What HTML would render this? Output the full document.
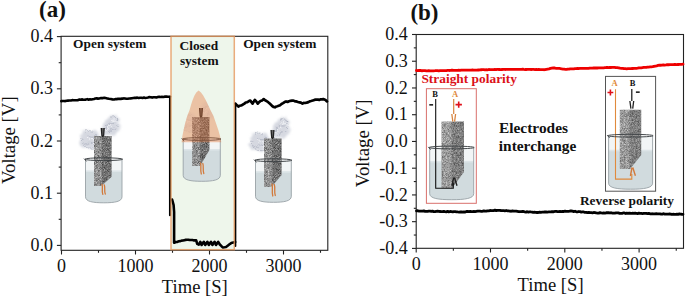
<!DOCTYPE html>
<html><head><meta charset="utf-8"><style>
html,body{margin:0;padding:0;background:#fff;width:685px;height:298px;overflow:hidden}
svg{display:block}
text{font-family:"Liberation Serif", serif;fill:#111}
.t{font-size:18px}
.tl{font-size:18.8px}
.tt{font-size:18.6px}
.b13{font-size:13.4px;font-weight:bold}
.b15{font-size:15.4px;font-weight:bold}
.b22{font-size:23px;font-weight:bold}
.b8{font-size:8.5px;font-weight:bold}
</style></head><body>
<svg width="685" height="298" viewBox="0 0 685 298">
<defs>
<filter id="noise" x="0" y="0" width="100%" height="100%" color-interpolation-filters="sRGB">
<feTurbulence type="fractalNoise" baseFrequency="1.5 0.85" numOctaves="2" seed="3" result="n"/>
<feColorMatrix in="n" type="matrix" values="0.78 0 0 0 0.14  0.78 0 0 0 0.14  0.78 0 0 0 0.14  0 0 0 0 1" result="a"/>
<feComposite in="a" in2="SourceGraphic" operator="in"/>
</filter>
<filter id="blur1"><feGaussianBlur stdDeviation="1.2"/></filter>
<filter id="wisp2" x="-30%" y="-30%" width="160%" height="160%">
<feTurbulence type="turbulence" baseFrequency="0.3" numOctaves="2" seed="4" result="t"/>
<feDisplacementMap in="SourceGraphic" in2="t" scale="4" xChannelSelector="R" yChannelSelector="G" result="d"/>
<feGaussianBlur in="d" stdDeviation="0.9"/>
</filter>
<filter id="wisp" x="-30%" y="-30%" width="160%" height="160%">
<feTurbulence type="turbulence" baseFrequency="0.22" numOctaves="2" seed="7" result="t"/>
<feDisplacementMap in="SourceGraphic" in2="t" scale="5" xChannelSelector="R" yChannelSelector="G" result="d"/>
<feGaussianBlur in="d" stdDeviation="0.35"/>
</filter>
</defs>
<rect width="685" height="298" fill="#fff"/>
<rect x="171.0" y="36.3" width="63.3" height="213.5" fill="#eef6eb"/>
<path d="M85.5,159.2 L85.5,196.8 C85.5,201.6 92.8,202.8 103.8,202.8 C114.7,202.8 122.0,201.6 122.0,196.8 L122.0,159.2 Z" fill="#f2f5f6" stroke="none"/>
<path d="M85.5,171.0 L85.5,196.8 C85.5,201.6 92.8,202.8 103.8,202.8 C114.7,202.8 122.0,201.6 122.0,196.8 L122.0,171.0 Z" fill="#d1dbde"/>
<rect x="85.5" y="170.4" width="36.5" height="1.6" fill="#dde5e8"/>
<g transform="translate(103,136) scale(1,1)"><g filter="url(#wisp2)" fill="#d5d8e0" fill-opacity="0.95"><ellipse cx="2" cy="-6" rx="5" ry="5"/><ellipse cx="6" cy="-12" rx="6.5" ry="6"/><ellipse cx="9" cy="-17" rx="6" ry="5"/><ellipse cx="12" cy="-9" rx="4.5" ry="5"/><ellipse cx="8" cy="-4" rx="4" ry="3"/><ellipse cx="-16" cy="0" rx="7.5" ry="6"/><ellipse cx="-13" cy="7" rx="7" ry="5"/><ellipse cx="-20" cy="5" rx="5" ry="5"/><ellipse cx="-9" cy="-2" rx="4" ry="4"/><ellipse cx="-18" cy="-4" rx="4" ry="3.5"/></g><g filter="url(#wisp)" fill="none" stroke="#f4f5f8" stroke-width="0.9"><path d="M0,-4 C3,-9 4,-12 7,-13 M6,-15 C9,-18 11,-16 13,-18 M-18,2 C-15,0 -12,3 -9,1 M-17,6 C-14,5 -12,8 -9,6"/></g><g filter="url(#wisp)" fill="none" stroke="#9ea3b3" stroke-width="0.55"><path d="M-1,-2 C2,-8 0,-12 5,-14 C9,-16 11,-12 14,-18 M4,-5 C7,-8 11,-7 13,-12 M5,-20 C8,-23 12,-20 14,-16 M-3,0 C-8,-3 -12,1 -17,-2 M-9,5 C-13,3 -15,9 -21,6 M-22,1 C-24,6 -20,10 -15,10 M-20,-5 C-17,-8 -13,-5 -10,-6 M-14,11 C-11,12 -8,9 -6,10"/></g></g>
<path d="M94.0,136.0 L111.6,136.0 L111.6,176.8 L101.0,186.0 L94.0,186.0 Z" fill="#000" filter="url(#noise)"/>
<path d="M94.0,136.0 L101.9,136.0 L101.9,186.0 L94.0,186.0 Z" fill="#fff" opacity="0.07"/>
<path d="M101.9,136.0 L111.6,136.0 L111.6,176.8 L101.9,186.0 L101.9,186.0 Z" fill="#000" opacity="0.17"/>
<path d="M101.3,128.0 L101.9,135.5 L102.8,136.5 L103.6,135.5 L104.2,128.0" fill="#666" stroke="#222" stroke-width="1.3" stroke-linejoin="round"/>
<path d="M102.0,184.4 c1.2,3.0 -0.6,6.0 0.8,10.0 M104.3,184.9 c1.2,3.0 -0.4,6.0 1.0,9.2" fill="none" stroke="#d27a3c" stroke-width="1.3" stroke-linecap="round"/>
<path d="M85.5,159.2 L85.5,196.8 C85.5,201.6 92.8,202.8 103.8,202.8 C114.7,202.8 122.0,201.6 122.0,196.8 L122.0,159.2" fill="none" stroke="#98a1a6" stroke-width="0.9"/>
<ellipse cx="103.8" cy="159.2" rx="18.8" ry="1.4" fill="none" stroke="#3c4043" stroke-width="0.95"/>
<path d="M84.0,158.6 l2.5,2.8" stroke="#3c4043" stroke-width="0.9" fill="none"/>
<path d="M183.2,139.0 L183.2,175.3 C183.2,180.1 190.6,181.3 201.8,181.3 C212.9,181.3 220.3,180.1 220.3,175.3 L220.3,139.0 Z" fill="#f2f5f6" stroke="none"/>
<path d="M183.2,149.6 L183.2,175.3 C183.2,180.1 190.6,181.3 201.8,181.3 C212.9,181.3 220.3,180.1 220.3,175.3 L220.3,149.6 Z" fill="#d1dbde"/>
<rect x="183.2" y="149.0" width="37.1" height="1.6" fill="#dde5e8"/>
<clipPath id="domeclip"><path d="M198.6,90.5 L196.3,92.5 L194.5,95.5 L192.6,100 L191,105 L189.6,110 L187.2,116 L185.2,123 L183.6,130 L182.4,136 L181.6,142.2 L221.3,142.2 L220,136 L218.3,130 L215.9,123 L213.5,116 L210.4,110 L208.1,105 L205.7,100 L203.2,95.5 L201,92.5 Z"/></clipPath><g opacity="0.4" clip-path="url(#domeclip)"><g transform="translate(200.8,119) scale(1,1)"><g filter="url(#wisp2)" fill="#d5d8e0" fill-opacity="0.95"><ellipse cx="2" cy="-6" rx="5" ry="5"/><ellipse cx="6" cy="-12" rx="6.5" ry="6"/><ellipse cx="9" cy="-17" rx="6" ry="5"/><ellipse cx="12" cy="-9" rx="4.5" ry="5"/><ellipse cx="8" cy="-4" rx="4" ry="3"/><ellipse cx="-16" cy="0" rx="7.5" ry="6"/><ellipse cx="-13" cy="7" rx="7" ry="5"/><ellipse cx="-20" cy="5" rx="5" ry="5"/><ellipse cx="-9" cy="-2" rx="4" ry="4"/><ellipse cx="-18" cy="-4" rx="4" ry="3.5"/></g><g filter="url(#wisp)" fill="none" stroke="#f4f5f8" stroke-width="0.9"><path d="M0,-4 C3,-9 4,-12 7,-13 M6,-15 C9,-18 11,-16 13,-18 M-18,2 C-15,0 -12,3 -9,1 M-17,6 C-14,5 -12,8 -9,6"/></g><g filter="url(#wisp)" fill="none" stroke="#9ea3b3" stroke-width="0.55"><path d="M-1,-2 C2,-8 0,-12 5,-14 C9,-16 11,-12 14,-18 M4,-5 C7,-8 11,-7 13,-12 M5,-20 C8,-23 12,-20 14,-16 M-3,0 C-8,-3 -12,1 -17,-2 M-9,5 C-13,3 -15,9 -21,6 M-22,1 C-24,6 -20,10 -15,10 M-20,-5 C-17,-8 -13,-5 -10,-6 M-14,11 C-11,12 -8,9 -6,10"/></g></g></g>
<path d="M192.2,117.0 L209.4,117.0 L209.4,150.0 L200.0,166.0 L192.2,166.0 Z" fill="#000" filter="url(#noise)"/>
<path d="M192.2,117.0 L199.9,117.0 L199.9,166.0 L192.2,166.0 Z" fill="#fff" opacity="0.07"/>
<path d="M199.9,117.0 L209.4,117.0 L209.4,150.0 L200.0,166.0 L199.9,166.0 Z" fill="#000" opacity="0.17"/>
<path d="M199.6,108.0 L200.2,116.0 L201.0,117.0 L201.8,116.0 L202.4,108.0" fill="#666" stroke="#222" stroke-width="1.3" stroke-linejoin="round"/>
<path d="M200.5,163.0 c1.2,3.3 -0.6,6.6 0.8,11.0 M202.8,163.5 c1.2,3.3 -0.4,6.6 1.0,10.1" fill="none" stroke="#d27a3c" stroke-width="1.3" stroke-linecap="round"/>
<path d="M183.2,139.0 L183.2,175.3 C183.2,180.1 190.6,181.3 201.8,181.3 C212.9,181.3 220.3,180.1 220.3,175.3 L220.3,139.0" fill="none" stroke="#98a1a6" stroke-width="0.9"/>
<ellipse cx="201.8" cy="139.0" rx="19.1" ry="1.4" fill="none" stroke="#3c4043" stroke-width="0.95"/>
<path d="M181.7,138.4 l2.5,2.8" stroke="#3c4043" stroke-width="0.9" fill="none"/>
<path d="M198.6,90.5 L196.3,92.5 L194.5,95.5 L192.6,100 L191,105 L189.6,110 L187.2,116 L185.2,123 L183.6,130 L182.4,136 L181.6,142.2 L221.3,142.2 L220,136 L218.3,130 L215.9,123 L213.5,116 L210.4,110 L208.1,105 L205.7,100 L203.2,95.5 L201,92.5 Z" fill="#e6763a" fill-opacity="0.4"/>
<path d="M255.5,160.2 L255.5,196.3 C255.5,201.1 262.7,202.3 273.4,202.3 C284.1,202.3 291.3,201.1 291.3,196.3 L291.3,160.2 Z" fill="#f2f5f6" stroke="none"/>
<path d="M255.5,171.8 L255.5,196.3 C255.5,201.1 262.7,202.3 273.4,202.3 C284.1,202.3 291.3,201.1 291.3,196.3 L291.3,171.8 Z" fill="#d1dbde"/>
<rect x="255.5" y="171.2" width="35.8" height="1.6" fill="#dde5e8"/>
<g transform="translate(273,138.5) scale(1,1)"><g filter="url(#wisp2)" fill="#d5d8e0" fill-opacity="0.95"><ellipse cx="2" cy="-6" rx="5" ry="5"/><ellipse cx="6" cy="-12" rx="6.5" ry="6"/><ellipse cx="9" cy="-17" rx="6" ry="5"/><ellipse cx="12" cy="-9" rx="4.5" ry="5"/><ellipse cx="8" cy="-4" rx="4" ry="3"/><ellipse cx="-16" cy="0" rx="7.5" ry="6"/><ellipse cx="-13" cy="7" rx="7" ry="5"/><ellipse cx="-20" cy="5" rx="5" ry="5"/><ellipse cx="-9" cy="-2" rx="4" ry="4"/><ellipse cx="-18" cy="-4" rx="4" ry="3.5"/></g><g filter="url(#wisp)" fill="none" stroke="#f4f5f8" stroke-width="0.9"><path d="M0,-4 C3,-9 4,-12 7,-13 M6,-15 C9,-18 11,-16 13,-18 M-18,2 C-15,0 -12,3 -9,1 M-17,6 C-14,5 -12,8 -9,6"/></g><g filter="url(#wisp)" fill="none" stroke="#9ea3b3" stroke-width="0.55"><path d="M-1,-2 C2,-8 0,-12 5,-14 C9,-16 11,-12 14,-18 M4,-5 C7,-8 11,-7 13,-12 M5,-20 C8,-23 12,-20 14,-16 M-3,0 C-8,-3 -12,1 -17,-2 M-9,5 C-13,3 -15,9 -21,6 M-22,1 C-24,6 -20,10 -15,10 M-20,-5 C-17,-8 -13,-5 -10,-6 M-14,11 C-11,12 -8,9 -6,10"/></g></g>
<path d="M264.0,138.5 L281.6,138.5 L281.6,175.0 L271.0,187.0 L264.0,187.0 Z" fill="#000" filter="url(#noise)"/>
<path d="M264.0,138.5 L271.9,138.5 L271.9,187.0 L264.0,187.0 Z" fill="#fff" opacity="0.07"/>
<path d="M271.9,138.5 L281.6,138.5 L281.6,175.0 L271.9,187.0 L271.9,187.0 Z" fill="#000" opacity="0.17"/>
<path d="M271.1,130.0 L271.7,137.5 L272.5,138.5 L273.3,137.5 L273.9,130.0" fill="#666" stroke="#222" stroke-width="1.3" stroke-linejoin="round"/>
<path d="M272.0,184.0 c1.2,3.6 -0.6,7.2 0.8,12.0 M274.3,184.5 c1.2,3.6 -0.4,7.2 1.0,11.0" fill="none" stroke="#d27a3c" stroke-width="1.3" stroke-linecap="round"/>
<path d="M255.5,160.2 L255.5,196.3 C255.5,201.1 262.7,202.3 273.4,202.3 C284.1,202.3 291.3,201.1 291.3,196.3 L291.3,160.2" fill="none" stroke="#98a1a6" stroke-width="0.9"/>
<ellipse cx="273.4" cy="160.2" rx="18.4" ry="1.4" fill="none" stroke="#3c4043" stroke-width="0.95"/>
<path d="M254.0,159.6 l2.5,2.8" stroke="#3c4043" stroke-width="0.9" fill="none"/>
<rect x="61.1" y="36.3" width="266.70" height="214.00" fill="none" stroke="#222" stroke-width="1.1"/>
<line x1="56.90" y1="245.40" x2="61.10" y2="245.40" stroke="#222" stroke-width="1.1"/>
<text x="53.00" y="251.00" text-anchor="end" class="t">0.0</text>
<line x1="56.90" y1="193.20" x2="61.10" y2="193.20" stroke="#222" stroke-width="1.1"/>
<text x="53.00" y="198.80" text-anchor="end" class="t">0.1</text>
<line x1="56.90" y1="141.00" x2="61.10" y2="141.00" stroke="#222" stroke-width="1.1"/>
<text x="53.00" y="146.60" text-anchor="end" class="t">0.2</text>
<line x1="56.90" y1="88.80" x2="61.10" y2="88.80" stroke="#222" stroke-width="1.1"/>
<text x="53.00" y="94.40" text-anchor="end" class="t">0.3</text>
<line x1="56.90" y1="36.60" x2="61.10" y2="36.60" stroke="#222" stroke-width="1.1"/>
<text x="53.00" y="42.20" text-anchor="end" class="t">0.4</text>
<line x1="58.70" y1="219.30" x2="61.10" y2="219.30" stroke="#222" stroke-width="1.1"/>
<line x1="58.70" y1="167.10" x2="61.10" y2="167.10" stroke="#222" stroke-width="1.1"/>
<line x1="58.70" y1="114.90" x2="61.10" y2="114.90" stroke="#222" stroke-width="1.1"/>
<line x1="58.70" y1="62.70" x2="61.10" y2="62.70" stroke="#222" stroke-width="1.1"/>
<line x1="61.50" y1="250.30" x2="61.50" y2="254.50" stroke="#222" stroke-width="1.1"/>
<text x="61.50" y="272.30" text-anchor="middle" class="t">0</text>
<line x1="135.50" y1="250.30" x2="135.50" y2="254.50" stroke="#222" stroke-width="1.1"/>
<text x="135.50" y="272.30" text-anchor="middle" class="t">1000</text>
<line x1="209.50" y1="250.30" x2="209.50" y2="254.50" stroke="#222" stroke-width="1.1"/>
<text x="209.50" y="272.30" text-anchor="middle" class="t">2000</text>
<line x1="283.50" y1="250.30" x2="283.50" y2="254.50" stroke="#222" stroke-width="1.1"/>
<text x="283.50" y="272.30" text-anchor="middle" class="t">3000</text>
<line x1="98.50" y1="250.30" x2="98.50" y2="252.80" stroke="#222" stroke-width="1.1"/>
<line x1="172.50" y1="250.30" x2="172.50" y2="252.80" stroke="#222" stroke-width="1.1"/>
<line x1="246.50" y1="250.30" x2="246.50" y2="252.80" stroke="#222" stroke-width="1.1"/>
<line x1="320.50" y1="250.30" x2="320.50" y2="252.80" stroke="#222" stroke-width="1.1"/>
<path d="M61.30,101.10 L62.64,100.97 L63.98,100.94 L65.32,101.10 L66.66,100.68 L68.00,100.60 L69.40,100.53 L70.80,100.50 L72.20,100.14 L73.60,100.29 L75.00,100.20 L76.33,100.19 L77.67,100.21 L79.00,99.62 L80.33,99.66 L81.67,99.41 L83.00,99.60 L84.40,99.76 L85.80,99.62 L87.20,99.10 L88.60,99.70 L90.00,99.30 L91.33,99.51 L92.67,99.17 L94.00,99.03 L95.33,98.59 L96.67,98.38 L98.00,98.60 L99.25,98.54 L100.50,98.13 L101.75,98.13 L103.00,98.09 L104.25,97.85 L105.50,98.10 L107.25,98.42 L109.00,98.80 L110.75,99.06 L112.50,99.40 L113.88,99.51 L115.25,99.16 L116.62,99.12 L118.00,98.90 L119.40,98.82 L120.80,98.85 L122.20,98.63 L123.60,98.42 L125.00,98.50 L126.40,98.79 L127.80,98.73 L129.20,98.56 L130.60,98.41 L132.00,98.20 L133.33,98.00 L134.67,97.88 L136.00,97.85 L137.33,97.63 L138.67,98.05 L140.00,97.80 L141.33,97.68 L142.67,97.94 L144.00,97.57 L145.33,97.92 L146.67,97.79 L148.00,97.50 L149.40,97.09 L150.80,97.18 L152.20,97.61 L153.60,97.24 L155.00,97.20 L156.40,97.48 L157.80,97.01 L159.20,96.72 L160.60,97.05 L162.00,96.90 L163.32,97.05 L164.64,96.66 L165.96,96.49 L167.28,96.62 L168.60,96.70 L170.00,96.70" fill="none" stroke="#000" stroke-width="2.6" stroke-linejoin="round" stroke-linecap="round"/>
<path d="M170.00,96.70 L170.00,215.30" fill="none" stroke="#000" stroke-width="2.1" stroke-linejoin="round" stroke-linecap="round"/>
<path d="M172.10,199.50 L173.60,205.00 L174.10,212.00 L174.10,242.80 L176.00,242.00 L177.50,241.84 L179.00,241.30 L180.33,241.14 L181.67,240.61 L183.00,240.50 L184.33,240.17 L185.67,239.87 L187.00,239.80 L188.33,239.69 L189.67,240.05 L191.00,240.00 L192.50,240.07 L194.00,240.40 L196.20,240.40 L197.20,243.80 L198.80,244.60 L200.30,241.80 L201.60,245.00 L203.80,241.80 L205.20,245.00 L207.40,241.80 L208.80,245.00 L211.00,241.80 L212.40,245.00 L214.60,241.80 L216.00,245.00 L218.20,241.80 L219.80,244.50 L221.50,246.20 L223.00,247.50 L224.50,247.27 L226.00,247.00 L228.00,245.50 L229.50,244.33 L231.00,243.20 L232.20,242.68 L233.40,242.40 L235.20,242.00" fill="none" stroke="#000" stroke-width="2.6" stroke-linejoin="round" stroke-linecap="round"/>
<path d="M235.40,246.00 L235.40,103.60" fill="none" stroke="#000" stroke-width="1.9" stroke-linejoin="round" stroke-linecap="round"/>
<path d="M235.40,103.60 L236.90,105.31 L238.40,106.60 L239.70,105.72 L241.00,105.50 L242.70,104.68 L244.40,103.60 L245.70,102.55 L247.00,102.20 L248.65,101.33 L250.30,100.60 L252.60,103.60 L254.80,99.90 L256.30,101.49 L257.80,103.60 L259.15,102.09 L260.50,101.00 L262.10,100.47 L263.70,99.10 L265.10,100.32 L266.50,101.00 L268.10,102.12 L269.70,103.60 L272.00,105.80 L273.45,106.90 L274.90,107.30 L276.13,106.54 L277.37,106.20 L278.60,105.80 L280.05,105.22 L281.50,104.00 L283.05,103.18 L284.60,102.10 L286.07,101.47 L287.53,102.01 L289.00,101.30 L290.50,100.81 L292.00,100.62 L293.50,100.60 L295.00,101.31 L296.50,101.38 L298.00,102.00 L299.47,102.35 L300.93,102.68 L302.40,103.60 L303.70,102.93 L305.00,103.00 L306.70,102.62 L308.40,102.10 L309.70,101.32 L311.00,101.00 L312.70,100.54 L314.40,99.90 L315.60,99.68 L316.80,99.66 L318.00,99.60 L319.32,99.89 L320.65,99.34 L321.98,99.29 L323.30,99.10 L325.50,100.00 L327.00,101.40" fill="none" stroke="#000" stroke-width="2.7" stroke-linejoin="round" stroke-linecap="round"/>
<rect x="171.0" y="36.3" width="63.3" height="213.4" fill="none" stroke="#e6975d" stroke-opacity="0.8" stroke-width="1.5"/>
<text x="73.1" y="48.1" class="b13">Open system</text>
<text x="179.5" y="49.7" class="b13">Closed</text>
<text x="179.9" y="64.8" class="b13">system</text>
<text x="243.2" y="47.6" class="b13">Open system</text>
<text x="39.0" y="16.8" class="b22">(a)</text>
<text x="194.8" y="292.8" text-anchor="middle" class="tt">Time [S]</text>
<text transform="translate(15.2,140.2) rotate(-90)" text-anchor="middle" class="tl">Voltage [V]</text>
<rect x="426.4" y="88.7" width="49.9" height="114.6" fill="#fff" stroke="#d9706c" stroke-width="1"/>
<path d="M429.7,147.5 L429.7,193.7 C429.7,198.5 438.5,199.7 451.7,199.7 C464.9,199.7 473.7,198.5 473.7,193.7 L473.7,147.5 Z" fill="#f2f5f6" stroke="none"/>
<path d="M429.7,161.5 L429.7,193.7 C429.7,198.5 438.5,199.7 451.7,199.7 C464.9,199.7 473.7,198.5 473.7,193.7 L473.7,161.5 Z" fill="#d1dbde"/>
<rect x="429.7" y="160.9" width="44.0" height="1.6" fill="#dde5e8"/>
<path d="M441.5,121.6 L464.0,121.6 L464.0,172.0 L452.0,188.3 L441.5,188.3 Z" fill="#000" filter="url(#noise)"/>
<path d="M441.5,121.6 L451.6,121.6 L451.6,188.3 L441.5,188.3 Z" fill="#fff" opacity="0.07"/>
<path d="M451.6,121.6 L464.0,121.6 L464.0,172.0 L452.0,188.3 L451.6,188.3 Z" fill="#000" opacity="0.17"/>
<path d="M441.5,121.6 L464.0,121.6 L464.0,172.0 L452.0,188.3 L441.5,188.3 Z" fill="#fff" opacity="0.1"/>
<path d="M453.7,99 L453.7,114" stroke="#d8843f" stroke-width="1.2"/><path d="M451.8,114 l1,7.5 M455.6,114 l-1,7.5" stroke="#d8843f" stroke-width="1.3" fill="none"/>
<path d="M435.7,99 L435.7,188.3 L453.3,188.3 L453.3,183" fill="none" stroke="#111" stroke-width="1.1"/><path d="M453.6,177.5 l-1.6,8.5 M454.4,177.5 l2.6,8.3" stroke="#222" stroke-width="1.4" fill="none"/>
<path d="M429.7,147.5 L429.7,193.7 C429.7,198.5 438.5,199.7 451.7,199.7 C464.9,199.7 473.7,198.5 473.7,193.7 L473.7,147.5" fill="none" stroke="#98a1a6" stroke-width="0.9"/>
<ellipse cx="451.7" cy="147.5" rx="22.5" ry="1.4" fill="none" stroke="#3c4043" stroke-width="0.95"/>
<path d="M428.2,146.9 l2.5,2.8" stroke="#3c4043" stroke-width="0.9" fill="none"/>
<text x="432.3" y="97" class="b8">B</text>
<text x="452.0" y="97" class="b8" style="fill:#e08a3c">A</text>
<rect x="429.3" y="104.1" width="3.8" height="1.5" fill="#111"/>
<path d="M455.5,104.6 h6.4 M458.7,101.4 v6.4" stroke="#e0101a" stroke-width="1.6"/>
<rect x="605.5" y="76.4" width="50.1" height="114.8" fill="#fff" stroke="#555" stroke-width="1"/>
<path d="M608.6,135.7 L608.6,183.2 C608.6,188.0 617.4,189.2 630.6,189.2 C643.8,189.2 652.6,188.0 652.6,183.2 L652.6,135.7 Z" fill="#f2f5f6" stroke="none"/>
<path d="M608.6,150.3 L608.6,183.2 C608.6,188.0 617.4,189.2 630.6,189.2 C643.8,189.2 652.6,188.0 652.6,183.2 L652.6,150.3 Z" fill="#d1dbde"/>
<rect x="608.6" y="149.7" width="44.0" height="1.6" fill="#dde5e8"/>
<path d="M619.8,109.7 L641.2,109.7 L641.2,155.0 L630.0,169.0 L619.8,169.0 Z" fill="#000" filter="url(#noise)"/>
<path d="M619.8,109.7 L629.4,109.7 L629.4,169.0 L619.8,169.0 Z" fill="#fff" opacity="0.07"/>
<path d="M629.4,109.7 L641.2,109.7 L641.2,155.0 L630.0,169.0 L629.4,169.0 Z" fill="#000" opacity="0.17"/>
<path d="M619.8,109.7 L641.2,109.7 L641.2,155.0 L630.0,169.0 L619.8,169.0 Z" fill="#fff" opacity="0.1"/>
<path d="M631.8,89 L631.8,101" stroke="#111" stroke-width="1.2"/><path d="M629.9,101 l1,7.7 M633.7,101 l-1,7.7" stroke="#222" stroke-width="1.3" fill="none"/>
<path d="M615.5,89.3 L615.5,179.1 L631.8,179.1 L631.8,174" fill="none" stroke="#e08a3c" stroke-width="1.1"/><path d="M632,167.5 l-1.6,8.5 M632.8,167.5 l2.6,8.3" stroke="#d27a3c" stroke-width="1.4" fill="none"/>
<path d="M608.6,135.7 L608.6,183.2 C608.6,188.0 617.4,189.2 630.6,189.2 C643.8,189.2 652.6,188.0 652.6,183.2 L652.6,135.7" fill="none" stroke="#98a1a6" stroke-width="0.9"/>
<ellipse cx="630.6" cy="135.7" rx="22.5" ry="1.4" fill="none" stroke="#3c4043" stroke-width="0.95"/>
<path d="M607.1,135.1 l2.5,2.8" stroke="#3c4043" stroke-width="0.9" fill="none"/>
<text x="611.6" y="85.5" class="b8" style="fill:#e08a3c">A</text>
<text x="629.8" y="85.5" class="b8">B</text>
<path d="M607.5,92.5 h5.8 M610.4,89.6 v5.8" stroke="#e0101a" stroke-width="1.6"/>
<rect x="635.9" y="91.4" width="3.8" height="1.5" fill="#111"/>
<rect x="416.2" y="34.5" width="267.30" height="213.80" fill="none" stroke="#222" stroke-width="1.1"/>
<line x1="412.00" y1="34.49" x2="416.20" y2="34.49" stroke="#222" stroke-width="1.1"/>
<text x="407.70" y="40.09" text-anchor="end" class="t">0.4</text>
<line x1="412.00" y1="61.23" x2="416.20" y2="61.23" stroke="#222" stroke-width="1.1"/>
<text x="407.70" y="66.83" text-anchor="end" class="t">0.3</text>
<line x1="412.00" y1="87.97" x2="416.20" y2="87.97" stroke="#222" stroke-width="1.1"/>
<text x="407.70" y="93.57" text-anchor="end" class="t">0.2</text>
<line x1="412.00" y1="114.71" x2="416.20" y2="114.71" stroke="#222" stroke-width="1.1"/>
<text x="407.70" y="120.31" text-anchor="end" class="t">0.1</text>
<line x1="412.00" y1="141.45" x2="416.20" y2="141.45" stroke="#222" stroke-width="1.1"/>
<text x="407.70" y="147.05" text-anchor="end" class="t">0.0</text>
<line x1="412.00" y1="168.19" x2="416.20" y2="168.19" stroke="#222" stroke-width="1.1"/>
<text x="407.70" y="173.79" text-anchor="end" class="t">-0.1</text>
<line x1="412.00" y1="194.93" x2="416.20" y2="194.93" stroke="#222" stroke-width="1.1"/>
<text x="407.70" y="200.53" text-anchor="end" class="t">-0.2</text>
<line x1="412.00" y1="221.67" x2="416.20" y2="221.67" stroke="#222" stroke-width="1.1"/>
<text x="407.70" y="227.27" text-anchor="end" class="t">-0.3</text>
<line x1="412.00" y1="248.41" x2="416.20" y2="248.41" stroke="#222" stroke-width="1.1"/>
<text x="407.70" y="254.01" text-anchor="end" class="t">-0.4</text>
<line x1="413.80" y1="47.86" x2="416.20" y2="47.86" stroke="#222" stroke-width="1.1"/>
<line x1="413.80" y1="74.60" x2="416.20" y2="74.60" stroke="#222" stroke-width="1.1"/>
<line x1="413.80" y1="101.34" x2="416.20" y2="101.34" stroke="#222" stroke-width="1.1"/>
<line x1="413.80" y1="128.08" x2="416.20" y2="128.08" stroke="#222" stroke-width="1.1"/>
<line x1="413.80" y1="154.82" x2="416.20" y2="154.82" stroke="#222" stroke-width="1.1"/>
<line x1="413.80" y1="181.56" x2="416.20" y2="181.56" stroke="#222" stroke-width="1.1"/>
<line x1="413.80" y1="208.30" x2="416.20" y2="208.30" stroke="#222" stroke-width="1.1"/>
<line x1="413.80" y1="235.04" x2="416.20" y2="235.04" stroke="#222" stroke-width="1.1"/>
<line x1="416.20" y1="248.30" x2="416.20" y2="252.50" stroke="#222" stroke-width="1.1"/>
<text x="416.20" y="270.20" text-anchor="middle" class="t">0</text>
<line x1="490.50" y1="248.30" x2="490.50" y2="252.50" stroke="#222" stroke-width="1.1"/>
<text x="490.50" y="270.20" text-anchor="middle" class="t">1000</text>
<line x1="564.80" y1="248.30" x2="564.80" y2="252.50" stroke="#222" stroke-width="1.1"/>
<text x="564.80" y="270.20" text-anchor="middle" class="t">2000</text>
<line x1="639.10" y1="248.30" x2="639.10" y2="252.50" stroke="#222" stroke-width="1.1"/>
<text x="639.10" y="270.20" text-anchor="middle" class="t">3000</text>
<line x1="453.35" y1="248.30" x2="453.35" y2="250.80" stroke="#222" stroke-width="1.1"/>
<line x1="527.65" y1="248.30" x2="527.65" y2="250.80" stroke="#222" stroke-width="1.1"/>
<line x1="601.95" y1="248.30" x2="601.95" y2="250.80" stroke="#222" stroke-width="1.1"/>
<line x1="676.25" y1="248.30" x2="676.25" y2="250.80" stroke="#222" stroke-width="1.1"/>
<path d="M416.50,70.50 L417.73,70.64 L418.95,70.46 L420.18,70.48 L421.41,70.73 L422.64,70.73 L423.86,70.59 L425.09,70.60 L426.32,70.79 L427.55,70.88 L428.77,70.68 L430.00,70.80 L431.25,70.92 L432.50,70.88 L433.75,70.78 L435.00,70.71 L436.25,70.60 L437.50,70.56 L438.75,70.82 L440.00,70.59 L441.25,70.71 L442.50,70.56 L443.75,70.71 L445.00,70.60 L446.24,70.59 L447.49,70.45 L448.73,70.37 L449.97,70.49 L451.21,70.26 L452.46,70.26 L453.70,70.30 L454.95,70.31 L456.21,70.39 L457.46,70.31 L458.72,70.20 L459.97,70.39 L461.22,70.17 L462.48,70.10 L463.73,70.17 L464.98,70.21 L466.24,70.09 L467.49,70.12 L468.75,70.17 L470.00,70.20 L471.25,70.18 L472.50,70.01 L473.75,70.05 L475.00,70.17 L476.25,70.16 L477.50,70.02 L478.75,69.99 L480.00,69.93 L481.25,69.75 L482.50,69.69 L483.75,69.64 L485.00,69.87 L486.25,69.77 L487.50,69.81 L488.75,69.49 L490.00,69.60 L491.21,69.62 L492.41,69.56 L493.62,69.61 L494.82,69.47 L496.03,69.66 L497.24,69.36 L498.44,69.48 L499.65,69.52 L500.86,69.55 L502.06,69.48 L503.27,69.45 L504.48,69.46 L505.68,69.48 L506.89,69.29 L508.09,69.37 L509.30,69.30 L510.52,69.43 L511.74,69.42 L512.95,69.29 L514.17,69.41 L515.39,69.44 L516.61,69.36 L517.82,69.38 L519.04,69.31 L520.26,69.38 L521.48,69.39 L522.69,69.24 L523.91,69.41 L525.13,69.52 L526.35,69.50 L527.56,69.46 L528.78,69.36 L530.00,69.40 L531.25,69.50 L532.50,69.47 L533.75,69.46 L535.00,69.60 L536.25,69.40 L537.50,69.63 L538.75,69.43 L540.00,69.63 L541.25,69.62 L542.50,69.57 L543.75,69.73 L545.00,69.70 L546.37,69.40 L547.73,69.13 L549.10,68.93 L550.47,68.43 L551.83,68.05 L553.20,67.90 L554.80,68.01 L556.40,68.29 L558.00,68.40 L559.23,68.46 L560.47,68.60 L561.70,68.97 L562.93,69.05 L564.17,69.13 L565.40,69.30 L566.60,69.33 L567.80,69.07 L569.00,69.09 L570.20,68.86 L571.40,68.84 L572.60,68.87 L573.80,68.81 L575.00,68.60 L576.21,68.68 L577.42,68.50 L578.63,68.52 L579.84,68.41 L581.06,68.32 L582.27,68.40 L583.48,68.47 L584.69,68.44 L585.90,68.30 L587.18,68.33 L588.46,68.36 L589.75,68.12 L591.03,68.06 L592.31,68.10 L593.59,68.01 L594.87,67.96 L596.15,67.98 L597.44,68.01 L598.72,67.93 L600.00,67.90 L601.21,67.79 L602.42,67.90 L603.62,67.89 L604.83,67.69 L606.04,67.52 L607.25,67.46 L608.46,67.66 L609.67,67.36 L610.88,67.51 L612.08,67.42 L613.29,67.29 L614.50,67.30 L615.88,67.61 L617.25,67.61 L618.62,67.87 L620.00,68.20 L621.34,68.33 L622.68,68.34 L624.02,68.72 L625.36,68.68 L626.70,68.90 L627.91,68.70 L629.12,68.58 L630.33,68.67 L631.54,68.52 L632.75,68.48 L633.95,68.40 L635.16,68.36 L636.37,68.31 L637.58,68.14 L638.79,67.90 L640.00,67.90 L641.26,67.78 L642.51,67.58 L643.77,67.42 L645.02,67.45 L646.28,67.41 L647.53,67.14 L648.79,67.05 L650.04,66.96 L651.30,66.90 L652.65,66.68 L654.00,66.34 L655.35,66.08 L656.70,65.84 L658.05,65.45 L659.40,65.20 L660.73,65.23 L662.05,65.20 L663.38,64.89 L664.70,65.08 L666.02,64.95 L667.35,64.71 L668.67,64.75 L670.00,64.70 L671.30,64.69 L672.60,64.72 L673.90,64.51 L675.20,64.52 L676.50,64.56 L677.80,64.49 L679.10,64.48 L680.40,64.29 L681.70,64.30 L683.00,64.20" fill="none" stroke="#ee0000" stroke-width="2.8" stroke-linejoin="round" stroke-linecap="round"/>
<path d="M416.50,210.90 L417.73,210.75 L418.95,211.09 L420.18,211.17 L421.41,211.09 L422.64,211.17 L423.86,210.89 L425.09,211.33 L426.32,211.41 L427.55,211.43 L428.77,211.19 L430.00,211.20 L431.25,211.41 L432.50,211.16 L433.75,211.55 L435.00,211.55 L436.25,211.28 L437.50,211.15 L438.75,211.40 L440.00,211.50 L441.25,211.66 L442.50,211.53 L443.75,211.28 L445.00,211.60 L446.28,211.81 L447.55,211.38 L448.83,211.85 L450.11,211.50 L451.38,211.62 L452.66,211.91 L453.94,211.55 L455.22,211.57 L456.49,211.82 L457.77,211.96 L459.05,212.06 L460.32,211.99 L461.60,211.90 L462.83,212.12 L464.05,211.80 L465.28,212.03 L466.51,211.46 L467.73,211.50 L468.96,211.64 L470.19,211.45 L471.41,211.66 L472.64,211.56 L473.87,211.45 L475.09,211.59 L476.32,211.38 L477.55,211.18 L478.77,211.18 L480.00,211.20 L481.24,211.34 L482.49,211.31 L483.73,210.83 L484.97,211.15 L486.21,211.16 L487.46,210.83 L488.70,210.79 L489.94,210.51 L491.19,210.64 L492.43,210.56 L493.67,210.56 L494.91,210.15 L496.16,210.65 L497.40,210.30 L498.66,210.37 L499.91,210.37 L501.17,210.67 L502.43,210.59 L503.69,210.62 L504.94,210.80 L506.20,210.49 L507.46,210.84 L508.71,210.83 L509.97,211.22 L511.23,211.26 L512.49,210.93 L513.74,211.12 L515.00,211.20 L516.22,211.05 L517.44,211.30 L518.67,211.61 L519.89,211.73 L521.11,211.55 L522.33,211.52 L523.56,211.52 L524.78,211.85 L526.00,212.11 L527.22,211.70 L528.44,212.16 L529.67,211.78 L530.89,211.96 L532.11,212.05 L533.33,212.40 L534.56,212.25 L535.78,212.34 L537.00,212.50 L538.30,212.51 L539.60,212.14 L540.90,212.46 L542.20,212.03 L543.50,212.21 L544.80,211.99 L546.10,211.90 L547.40,212.04 L548.70,211.92 L550.00,211.90 L551.25,211.77 L552.50,211.74 L553.75,211.75 L555.00,211.47 L556.25,211.44 L557.50,211.64 L558.75,211.59 L560.00,211.47 L561.25,211.60 L562.50,211.40 L563.75,211.50 L565.00,211.06 L566.25,211.31 L567.50,211.30 L568.75,211.30 L570.00,211.00 L571.25,211.00 L572.50,211.10 L573.75,211.57 L575.00,211.26 L576.25,211.83 L577.50,211.87 L578.75,211.52 L580.00,211.69 L581.25,212.09 L582.50,211.92 L583.75,211.93 L585.00,212.47 L586.25,212.33 L587.50,212.66 L588.75,212.37 L590.00,212.70 L591.25,212.66 L592.50,212.85 L593.75,212.47 L595.00,212.60 L596.25,212.90 L597.50,213.06 L598.75,213.11 L600.00,212.62 L601.25,212.87 L602.50,213.04 L603.75,212.91 L605.00,213.04 L606.25,212.76 L607.50,212.70 L608.75,212.74 L610.00,213.00 L611.20,212.74 L612.40,213.06 L613.60,213.06 L614.80,213.11 L616.00,212.87 L617.20,212.91 L618.40,212.93 L619.60,213.33 L620.80,213.44 L622.00,213.42 L623.20,212.93 L624.40,212.93 L625.60,213.48 L626.80,213.20 L628.00,213.40 L629.20,213.15 L630.40,213.25 L631.60,213.30 L632.80,213.26 L634.00,213.38 L635.20,213.04 L636.40,213.47 L637.60,213.57 L638.80,213.19 L640.00,213.40 L641.25,213.40 L642.50,213.59 L643.75,213.42 L645.00,213.32 L646.25,213.32 L647.50,213.56 L648.75,213.28 L650.00,213.84 L651.25,213.81 L652.50,213.77 L653.75,213.89 L655.00,213.78 L656.25,213.67 L657.50,213.81 L658.75,213.78 L660.00,213.80 L661.21,214.12 L662.42,214.04 L663.63,213.73 L664.84,214.15 L666.05,214.08 L667.26,214.12 L668.47,214.17 L669.68,213.95 L670.89,214.27 L672.11,214.29 L673.32,214.21 L674.53,214.28 L675.74,214.30 L676.95,214.11 L678.16,214.33 L679.37,213.96 L680.58,214.15 L681.79,214.25 L683.00,214.30" fill="none" stroke="#000" stroke-width="2.8" stroke-linejoin="round" stroke-linecap="round"/>
<text x="421.4" y="82.8" class="b13" style="fill:#dc1018">Straight polarity</text>
<text x="499.0" y="133.1" class="b15">Electrodes</text>
<text x="498.8" y="150.5" class="b15">interchange</text>
<text x="579.9" y="205.2" class="b13">Reverse polarity</text>
<text x="410.4" y="19.9" class="b22">(b)</text>
<text x="550.6" y="290.5" text-anchor="middle" class="tt">Time [S]</text>
<text transform="translate(369.0,143.3) rotate(-90)" text-anchor="middle" class="tl">Voltage [V]</text>
</svg>
</body></html>
